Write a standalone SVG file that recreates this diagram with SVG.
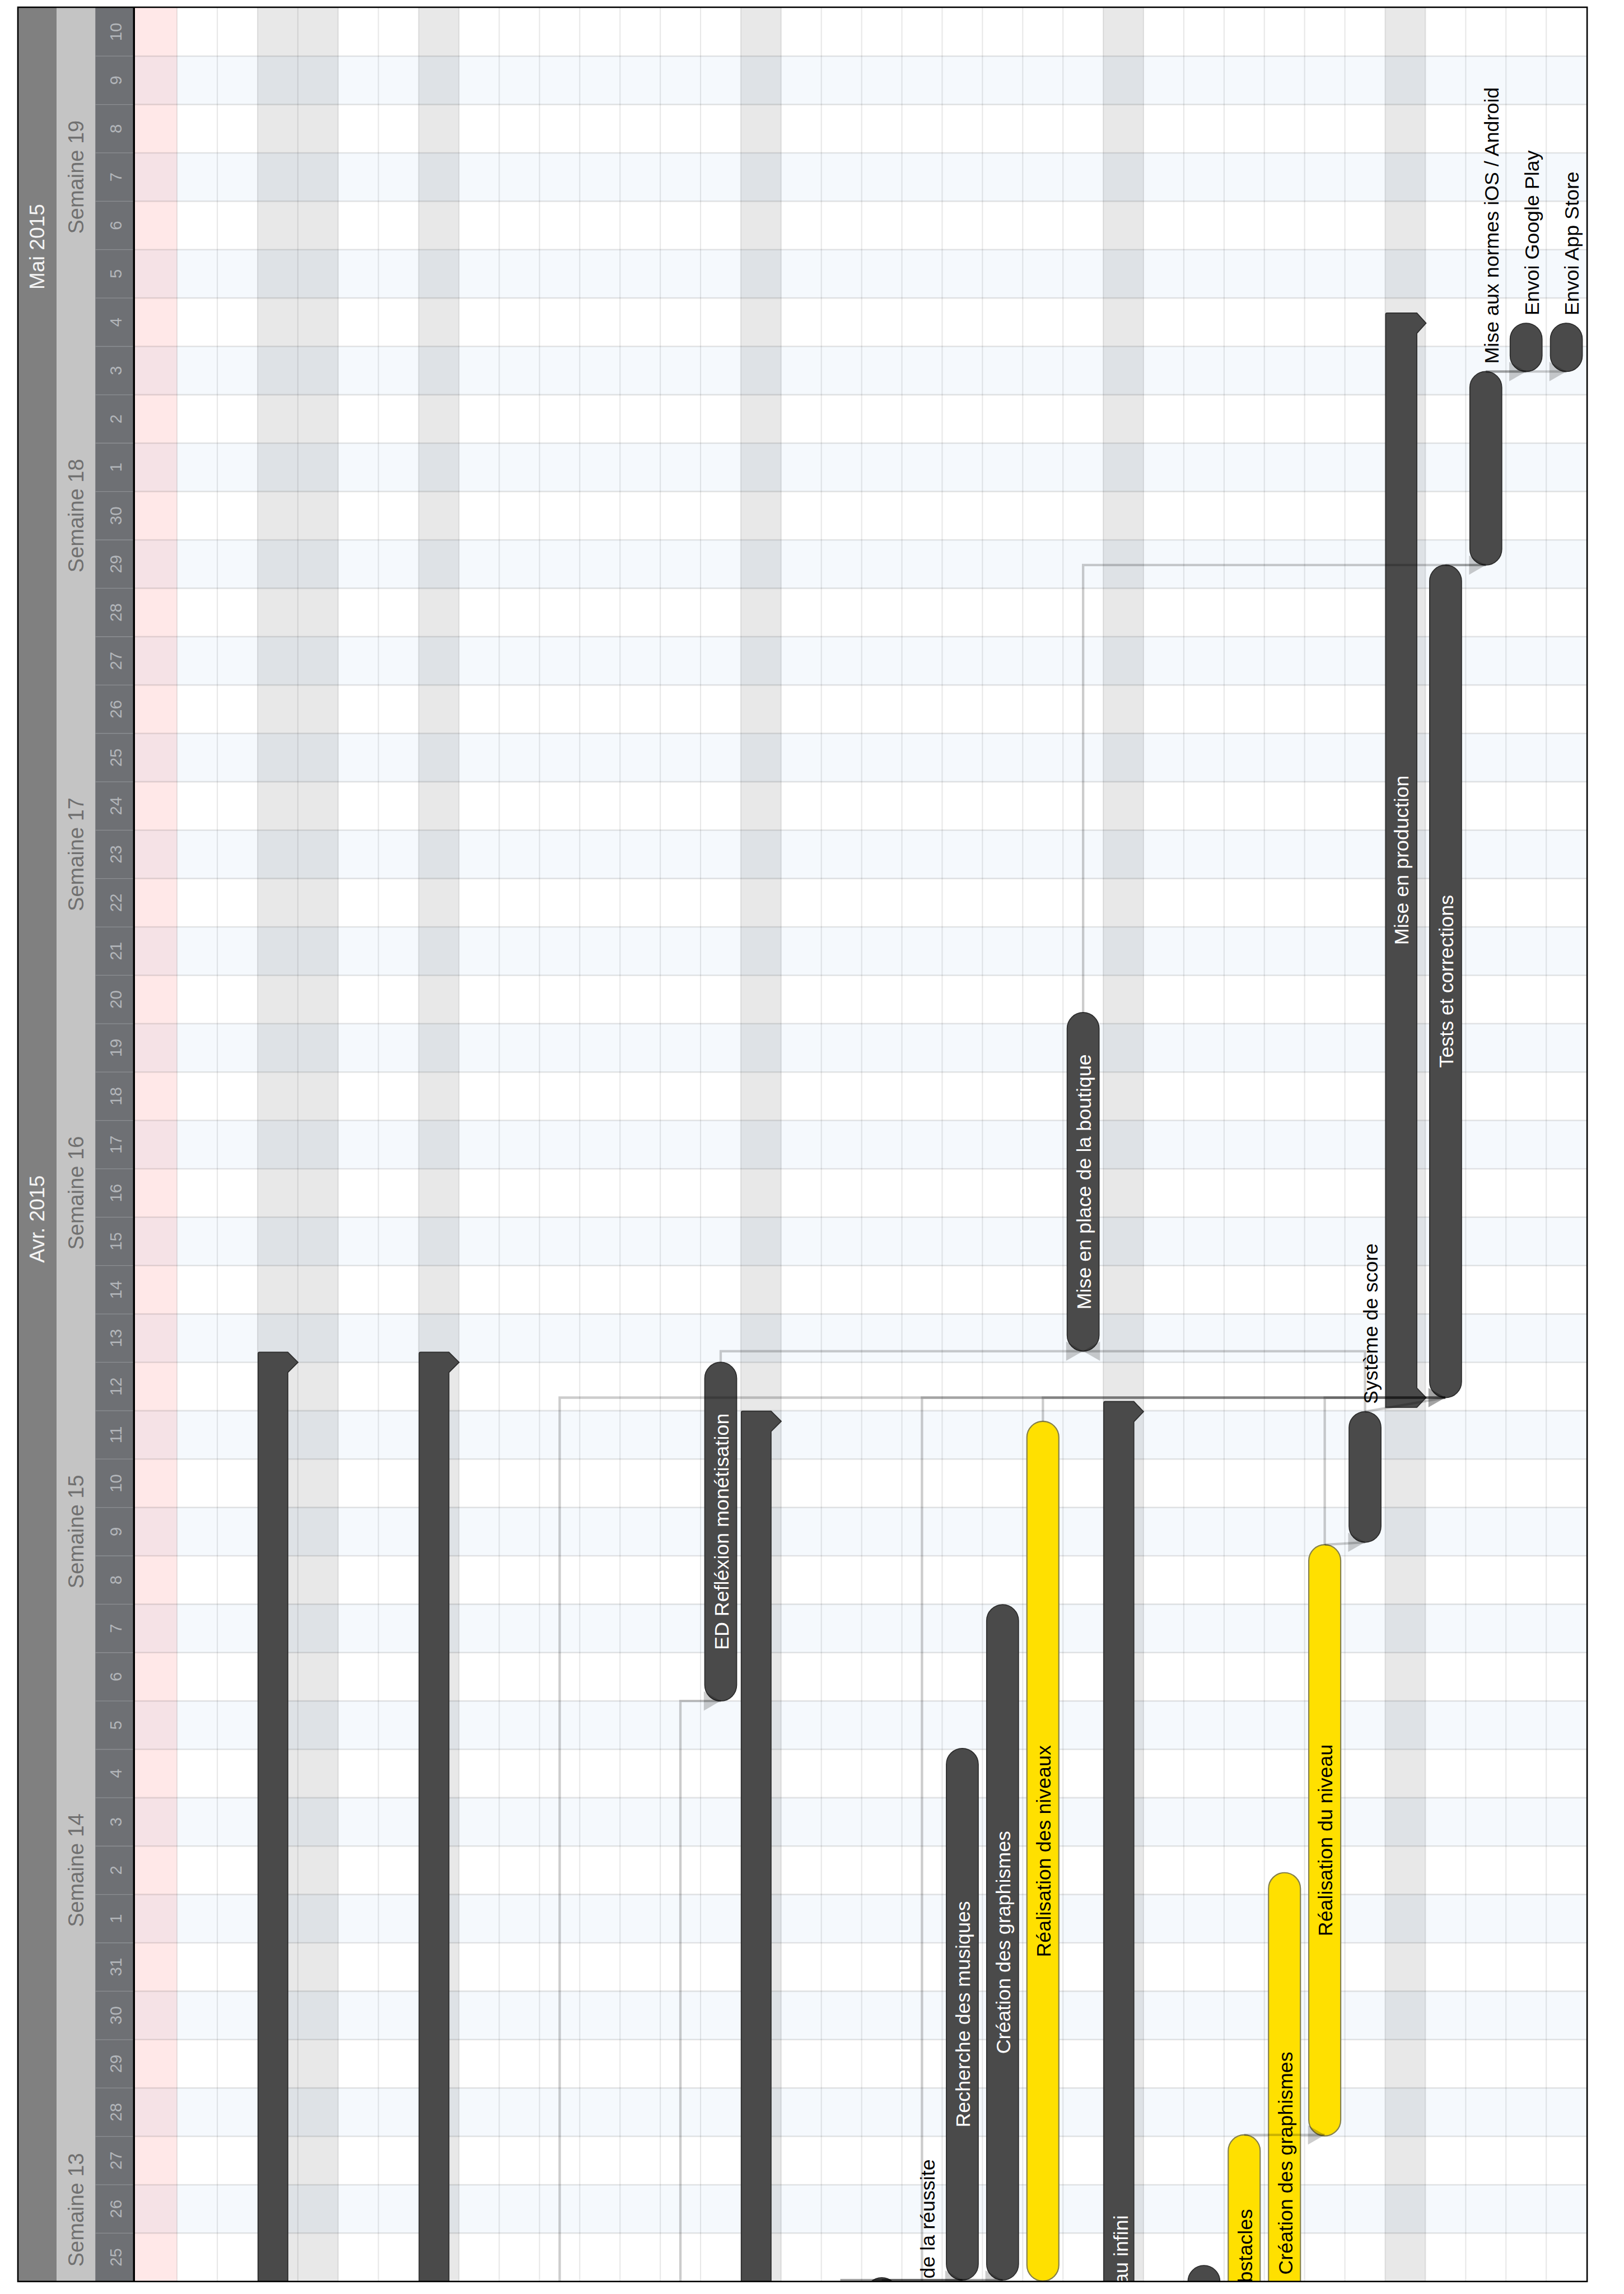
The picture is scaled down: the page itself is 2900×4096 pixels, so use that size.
<svg xmlns="http://www.w3.org/2000/svg" width="2900" height="4096" viewBox="0 0 2900 4096">
<style>
.t{font-family:"Liberation Sans",Arial,Helvetica,sans-serif}
.mo{font-size:43px;fill:#f4f4f4}
.wk{font-size:44px;fill:#707070}
.dy{font-size:34px;fill:#b3b6ba}
.lw{font-size:41.5px;fill:#ffffff}
.lb{font-size:41.5px;fill:#000000}
.bar{fill:#4a4a4a;stroke:#2c2c2c;stroke-width:2}
.ybar{fill:#ffe000;stroke:#85804a;stroke-width:2.5}
.cn{fill:none;stroke:#000;stroke-opacity:0.2;stroke-width:5}
.ah{fill:#000;fill-opacity:0.2}
</style>
<defs>
<clipPath id="chart"><rect x="279" y="16" width="3001" height="4700"/></clipPath>
</defs>
<rect width="2900" height="4096" fill="#fff"/>
<g transform="scale(0.8638)">
<!-- header -->
<g id="header">
<rect x="37" y="16" width="80" height="4700" fill="#808080"/>
<rect x="117" y="16" width="80" height="4700" fill="#c4c4c4"/>
<rect x="197" y="16" width="80" height="4700" fill="#6e7074"/>
<path d="M197 116H276M197 216H276M197 316H276M197 416H276M197 516H276M197 616H276M197 716H276M197 816H276M197 916H276M197 1016H276M197 1116H276M197 1216H276M197 1316H276M197 1416H276M197 1516H276M197 1616H276M197 1716H276M197 1816H276M197 1916H276M197 2016H276M197 2116H276M197 2216H276M197 2316H276M197 2416H276M197 2516H276M197 2616H276M197 2716H276M197 2816H276M197 2916H276M197 3016H276M197 3116H276M197 3216H276M197 3316H276M197 3416H276M197 3516H276M197 3616H276M197 3716H276M197 3816H276M197 3916H276M197 4016H276M197 4116H276M197 4216H276M197 4316H276M197 4416H276M197 4516H276M197 4616H276" stroke="#8c8e92" stroke-width="1.5" fill="none"/>
<text class="t mo" text-anchor="middle" transform="translate(92,510) rotate(-90)">Mai 2015</text>
<text class="t mo" text-anchor="middle" transform="translate(92,2520) rotate(-90)">Avr. 2015</text>
<text class="t wk" text-anchor="middle" transform="translate(172,366) rotate(-90)">Semaine 19</text>
<text class="t wk" text-anchor="middle" transform="translate(172,1066) rotate(-90)">Semaine 18</text>
<text class="t wk" text-anchor="middle" transform="translate(172,1766) rotate(-90)">Semaine 17</text>
<text class="t wk" text-anchor="middle" transform="translate(172,2466) rotate(-90)">Semaine 16</text>
<text class="t wk" text-anchor="middle" transform="translate(172,3166) rotate(-90)">Semaine 15</text>
<text class="t wk" text-anchor="middle" transform="translate(172,3866) rotate(-90)">Semaine 14</text>
<text class="t wk" text-anchor="middle" transform="translate(172,4568) rotate(-90)">Semaine 13</text>
<g class="t dy" text-anchor="middle">
<text transform="translate(251,66) rotate(-90)">10</text>
<text transform="translate(251,166) rotate(-90)">9</text>
<text transform="translate(251,266) rotate(-90)">8</text>
<text transform="translate(251,366) rotate(-90)">7</text>
<text transform="translate(251,466) rotate(-90)">6</text>
<text transform="translate(251,566) rotate(-90)">5</text>
<text transform="translate(251,666) rotate(-90)">4</text>
<text transform="translate(251,766) rotate(-90)">3</text>
<text transform="translate(251,866) rotate(-90)">2</text>
<text transform="translate(251,966) rotate(-90)">1</text>
<text transform="translate(251,1066) rotate(-90)">30</text>
<text transform="translate(251,1166) rotate(-90)">29</text>
<text transform="translate(251,1266) rotate(-90)">28</text>
<text transform="translate(251,1366) rotate(-90)">27</text>
<text transform="translate(251,1466) rotate(-90)">26</text>
<text transform="translate(251,1566) rotate(-90)">25</text>
<text transform="translate(251,1666) rotate(-90)">24</text>
<text transform="translate(251,1766) rotate(-90)">23</text>
<text transform="translate(251,1866) rotate(-90)">22</text>
<text transform="translate(251,1966) rotate(-90)">21</text>
<text transform="translate(251,2066) rotate(-90)">20</text>
<text transform="translate(251,2166) rotate(-90)">19</text>
<text transform="translate(251,2266) rotate(-90)">18</text>
<text transform="translate(251,2366) rotate(-90)">17</text>
<text transform="translate(251,2466) rotate(-90)">16</text>
<text transform="translate(251,2566) rotate(-90)">15</text>
<text transform="translate(251,2666) rotate(-90)">14</text>
<text transform="translate(251,2766) rotate(-90)">13</text>
<text transform="translate(251,2866) rotate(-90)">12</text>
<text transform="translate(251,2966) rotate(-90)">11</text>
<text transform="translate(251,3066) rotate(-90)">10</text>
<text transform="translate(251,3166) rotate(-90)">9</text>
<text transform="translate(251,3266) rotate(-90)">8</text>
<text transform="translate(251,3366) rotate(-90)">7</text>
<text transform="translate(251,3466) rotate(-90)">6</text>
<text transform="translate(251,3566) rotate(-90)">5</text>
<text transform="translate(251,3666) rotate(-90)">4</text>
<text transform="translate(251,3766) rotate(-90)">3</text>
<text transform="translate(251,3866) rotate(-90)">2</text>
<text transform="translate(251,3966) rotate(-90)">1</text>
<text transform="translate(251,4066) rotate(-90)">31</text>
<text transform="translate(251,4166) rotate(-90)">30</text>
<text transform="translate(251,4266) rotate(-90)">29</text>
<text transform="translate(251,4366) rotate(-90)">28</text>
<text transform="translate(251,4466) rotate(-90)">27</text>
<text transform="translate(251,4566) rotate(-90)">26</text>
<text transform="translate(251,4666) rotate(-90)">25</text>
</g>
</g>
<!-- chart background -->
<g id="background">
<rect x="279" y="16" width="3002" height="4700" fill="#fff"/>
<path d="M279 116h3002v100h-3002zM279 316h3002v100h-3002zM279 516h3002v100h-3002zM279 716h3002v100h-3002zM279 916h3002v100h-3002zM279 1116h3002v100h-3002zM279 1316h3002v100h-3002zM279 1516h3002v100h-3002zM279 1716h3002v100h-3002zM279 1916h3002v100h-3002zM279 2116h3002v100h-3002zM279 2316h3002v100h-3002zM279 2516h3002v100h-3002zM279 2716h3002v100h-3002zM279 2916h3002v100h-3002zM279 3116h3002v100h-3002zM279 3316h3002v100h-3002zM279 3516h3002v100h-3002zM279 3716h3002v100h-3002zM279 3916h3002v100h-3002zM279 4116h3002v100h-3002zM279 4316h3002v100h-3002zM279 4516h3002v100h-3002z" fill="#f5f9fd"/>
<rect x="279" y="16" width="87" height="4700" fill="#ff0000" fill-opacity="0.09"/>
<g fill="#000" fill-opacity="0.09">
<rect x="532.5" y="16" width="166.5" height="4700"/>
<rect x="865.5" y="16" width="83.25" height="4700"/>
<rect x="1531.5" y="16" width="83.25" height="4700"/>
<rect x="2280.75" y="16" width="83.25" height="4700"/>
<rect x="2863.5" y="16" width="83.25" height="4700"/>
</g>
<path d="M279 116H3281M279 216H3281M279 316H3281M279 416H3281M279 516H3281M279 616H3281M279 716H3281M279 816H3281M279 916H3281M279 1016H3281M279 1116H3281M279 1216H3281M279 1316H3281M279 1416H3281M279 1516H3281M279 1616H3281M279 1716H3281M279 1816H3281M279 1916H3281M279 2016H3281M279 2116H3281M279 2216H3281M279 2316H3281M279 2416H3281M279 2516H3281M279 2616H3281M279 2716H3281M279 2816H3281M279 2916H3281M279 3016H3281M279 3116H3281M279 3216H3281M279 3316H3281M279 3416H3281M279 3516H3281M279 3616H3281M279 3716H3281M279 3816H3281M279 3916H3281M279 4016H3281M279 4116H3281M279 4216H3281M279 4316H3281M279 4416H3281M279 4516H3281M279 4616H3281" stroke="#000" stroke-opacity="0.1" stroke-width="3" fill="none"/>
<path d="M366 16V4716M449.25 16V4716M532.5 16V4716M615.75 16V4716M699 16V4716M782.25 16V4716M865.5 16V4716M948.75 16V4716M1032 16V4716M1115.25 16V4716M1198.5 16V4716M1281.75 16V4716M1365 16V4716M1448.25 16V4716M1531.5 16V4716M1614.75 16V4716M1698 16V4716M1781.25 16V4716M1864.5 16V4716M1947.75 16V4716M2031 16V4716M2114.25 16V4716M2197.5 16V4716M2280.75 16V4716M2364 16V4716M2447.25 16V4716M2530.5 16V4716M2613.75 16V4716M2697 16V4716M2780.25 16V4716M2863.5 16V4716M2946.75 16V4716M3030 16V4716M3113.25 16V4716M3196.5 16V4716" stroke="#000" stroke-opacity="0.09" stroke-width="2.5" fill="none"/>
</g>
<g clip-path="url(#chart)">
<!-- summary tasks -->
<g id="summary-row3"><path class="bar" d="M533.5 4800V2798Q533.5 2795 536.5 2795H595L616 2816L595 2837V4800Z"/></g>
<g id="summary-row7"><path class="bar" d="M866.5 4800V2798Q866.5 2795 869.5 2795H928L949 2816L928 2837V4800Z"/></g>
<g id="summary-row15"><path class="bar" d="M1532.5 4800V2920Q1532.5 2917 1535.5 2917H1594L1615 2938L1594 2959V4800Z"/></g>
<g id="summary-niveau-infini"><path class="bar" d="M2281.75 4800V2900Q2281.75 2897 2284.75 2897H2344L2364 2918L2344 2939V4800Z"/>
<text class="t lw" transform="translate(2331,4722) rotate(-90)">au infini</text></g>
<g id="mise-en-production"><path class="bar" d="M2864.5 2909V650Q2864.5 647 2867.5 647H2929L2948 668L2929 689V2869L2948 2889L2929 2909Z"/>
<text class="t lw" text-anchor="middle" transform="translate(2912,1778) rotate(-90)">Mise en production</text></g>
<!-- tasks -->
<g id="ed-reflexion"><rect class="bar" x="1456.9" y="2816" width="66" height="700" rx="33"/>
<text class="t lw" text-anchor="middle" transform="translate(1506,3166) rotate(-90)">ED Refléxion monétisation</text></g>
<g id="task-row18"><rect class="bar" x="1789.9" y="4708" width="66" height="200" rx="33"/></g>
<g id="task-row19-label"><text class="t lb" transform="translate(1932,4710) rotate(-90)">de la réussite</text></g>
<g id="recherche-musiques"><rect class="bar" x="1956.4" y="3614" width="66" height="1099" rx="33"/>
<text class="t lw" text-anchor="middle" transform="translate(2005.4,4163.5) rotate(-90)">Recherche des musiques</text></g>
<g id="creation-graphismes-1"><rect class="bar" x="2039.6" y="3317" width="66" height="1396" rx="33"/>
<text class="t lw" text-anchor="middle" transform="translate(2088.6,4015) rotate(-90)">Création des graphismes</text></g>
<g id="realisation-niveaux"><rect class="ybar" x="2122.9" y="2938" width="66" height="1777" rx="33"/>
<text class="t lb" text-anchor="middle" transform="translate(2172,3826.5) rotate(-90)">Réalisation des niveaux</text></g>
<g id="boutique"><rect class="bar" x="2206.1" y="2093" width="66" height="700" rx="33"/>
<text class="t lw" text-anchor="middle" transform="translate(2255,2443) rotate(-90)">Mise en place de la boutique</text></g>
<g id="task-row26"><rect class="bar" x="2455.9" y="4683" width="66" height="200" rx="33"/></g>
<g id="obstacles"><rect class="ybar" x="2539.1" y="4413" width="66" height="500" rx="33"/>
<text class="t lb" transform="translate(2588,4718) rotate(-90)">bstacles</text></g>
<g id="creation-graphismes-2"><rect class="ybar" x="2622.4" y="3871" width="66" height="1000" rx="33"/>
<text class="t lb" transform="translate(2671.4,4702) rotate(-90)">Création des graphismes</text></g>
<g id="realisation-niveau"><rect class="ybar" x="2705.6" y="3193" width="66" height="1222" rx="33"/>
<text class="t lb" text-anchor="middle" transform="translate(2754.6,3804) rotate(-90)">Réalisation du niveau</text></g>
<g id="systeme-score"><rect class="bar" x="2788.9" y="2918" width="66" height="270" rx="33"/>
<text class="t lb" transform="translate(2848,2902) rotate(-90)">Système de score</text></g>
<g id="tests-corrections"><rect class="bar" x="2955.4" y="1168" width="66" height="1721" rx="33"/>
<text class="t lw" text-anchor="middle" transform="translate(3004.4,2028.5) rotate(-90)">Tests et corrections</text></g>
<g id="mise-aux-normes"><rect class="bar" x="3038.6" y="768" width="66" height="400" rx="33"/>
<text class="t lb" transform="translate(3097.6,752) rotate(-90)">Mise aux normes iOS / Android</text></g>
<g id="envoi-google-play"><rect class="bar" x="3121.9" y="668" width="66" height="100" rx="33"/>
<text class="t lb" transform="translate(3181,652) rotate(-90)">Envoi Google Play</text></g>
<g id="envoi-app-store"><rect class="bar" x="3205.1" y="668" width="66" height="100" rx="33"/>
<text class="t lb" transform="translate(3264,652) rotate(-90)">Envoi App Store</text></g>
<!-- connectors -->
<g id="connectors">
<path class="cn" d="M1489.9 2816V2793H2239"/>
<polygon class="ah" points="2204,2773 2204,2813 2239,2793"/>
<path class="cn" d="M2821.9 2918V2793H2239"/>
<polygon class="ah" points="2274,2773 2274,2813 2239,2793"/>
<path class="cn" d="M1157 4800V2889H2988"/>
<path class="cn" d="M1906 4800V2889H2988"/>
<path class="cn" d="M2156 2938V2889H2988"/>
<path class="cn" d="M2738.6 3193V2889H2988"/>
<path class="cn" d="M2821.9 2918L2988 2889"/>
<polygon class="ah" points="2953,2869 2953,2909 2988,2889"/>
<polygon class="ah" points="2953,2869 2953,2909 2988,2889"/>
<path class="cn" d="M1406.6 4800V3516H1489.9"/>
<polygon class="ah" points="1455,3496 1455,3536 1489.9,3516"/>
<path class="cn" d="M2738.6 3193L2821.9 3188"/>
<polygon class="ah" points="2787,3168 2787,3208 2821.9,3188"/>
<path class="cn" d="M2572 4413H2738.6"/>
<polygon class="ah" points="2704,4393 2704,4433 2738.6,4413"/>
<path class="cn" d="M1739.6 4800V4713H1989.4"/>
<path class="cn" d="M1739.6 4800V4713H2072.6"/>
<path class="cn" d="M1822.9 4713H1989.4"/>
<path class="cn" d="M1822.9 4713H2072.6"/>
<polygon class="ah" points="1954,4693 1954,4733 1989.4,4713"/>
<polygon class="ah" points="2037,4693 2037,4733 2072.6,4713"/>
<path class="cn" d="M2239.1 2093V1168H3071.6"/>
<path class="cn" d="M2988.4 1168H3071.6"/>
<polygon class="ah" points="3037,1148 3037,1188 3071.6,1168"/>
<path class="cn" d="M3071.6 768H3154.9"/>
<polygon class="ah" points="3120,748 3120,788 3154.9,768"/>
<path class="cn" d="M3071.6 768H3238.1"/>
<polygon class="ah" points="3203,748 3203,788 3238.1,768"/>
</g>
</g>
<line x1="277" y1="16" x2="277" y2="4716" stroke="#000" stroke-width="4"/>
<rect x="37" y="15" width="3244" height="4701" fill="none" stroke="#000" stroke-width="3"/>
</g>
</svg>
